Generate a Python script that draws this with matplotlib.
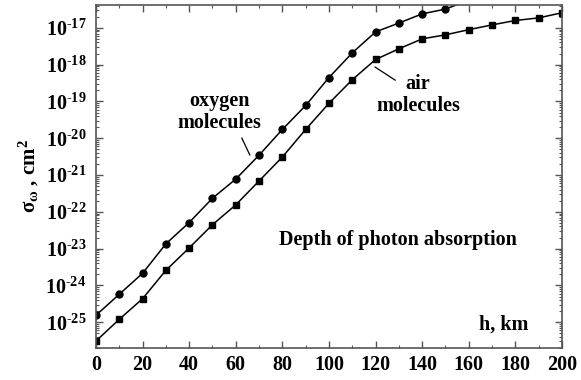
import matplotlib
matplotlib.use("Agg")
import matplotlib.pyplot as plt
import numpy as np
from matplotlib.ticker import FixedLocator, FuncFormatter, MultipleLocator

plt.rcParams['font.family'] = ['Liberation Serif', 'DejaVu Serif']
plt.rcParams['font.weight'] = 'bold'
plt.rcParams['mathtext.fontset'] = 'custom'
plt.rcParams['mathtext.rm'] = 'Liberation Serif:bold'
plt.rcParams['mathtext.bf'] = 'Liberation Serif:bold'
plt.rcParams['mathtext.it'] = 'Liberation Serif:bold'

h_oxygen = [0, 10, 20, 30, 40, 50, 60, 70, 80, 90, 100, 110, 120, 130, 140, 150, 160]
log_sigma_oxygen = [-24.81, -24.24, -23.67, -22.87, -22.29, -21.63, -21.11, -20.46, -19.76,
                    -19.11, -18.35, -17.68, -17.11, -16.87, -16.62, -16.49, -16.25]
h_air = [0, 10, 20, 30, 40, 50, 60, 70, 80, 90, 100, 110, 120, 130, 140, 150, 160, 170, 180, 190, 200]
log_sigma_air = [-25.51, -24.92, -24.36, -23.59, -22.98, -22.35, -21.81, -21.16, -20.51, -19.76,
                 -19.05, -18.41, -17.86, -17.57, -17.30, -17.19, -17.05, -16.92, -16.80, -16.73, -16.59]

fig = plt.figure(figsize=(5.81, 3.80), dpi=100)
ax = fig.add_axes([0.1652, 0.0842, 0.8021, 0.9026])

ax.plot(h_oxygen, 10.0 ** np.array(log_sigma_oxygen), '-o', color='black', lw=1.1, ms=5)
ax.plot(h_air, 10.0 ** np.array(log_sigma_air), '-s', color='black', lw=1.1, ms=4.5)

ax.set_yscale('log')
ax.set_xlim(0, 200)
ax.set_ylim(10 ** -25.70, 10 ** -16.38)

ax.xaxis.set_major_locator(MultipleLocator(20))
ax.xaxis.set_minor_locator(MultipleLocator(10))
ax.yaxis.set_major_locator(FixedLocator([10.0 ** e for e in range(-25, -16)]))
ax.yaxis.set_major_formatter(FuncFormatter(
    lambda v, p: r'$\mathbf{10}^{\text{-%d}}$' % abs(int(round(np.log10(v))))))
minor = []
for e in range(-26, -16):
    for m in range(2, 10):
        minor.append(m * 10.0 ** e)
ax.yaxis.set_minor_locator(FixedLocator(minor))
ax.yaxis.set_minor_formatter(FuncFormatter(lambda v, p: ''))

ax.tick_params(which='both', direction='in', top=True, right=True, color='#555555')
ax.tick_params(which='major', length=5, width=1.0)
ax.tick_params(which='minor', length=2.5, width=0.8)
ax.tick_params(axis='x', labelsize=14.5, pad=5)
ax.tick_params(axis='y', labelsize=14.5, pad=7)
for lab in ax.get_xticklabels():
    lab.set_fontweight('bold')
for s in ax.spines.values():
    s.set_color('#555555')
    s.set_linewidth(1.2)

ax.set_ylabel(r'$\mathbf{\sigma_{\omega}}$ , cm$^{\mathbf{2}}$', fontsize=15, fontweight='bold', labelpad=3)

ax.text(0.264, 0.689, 'oxygen\nmolecules', transform=ax.transAxes, ha='center', va='center',
        fontsize=14.5, fontweight='bold', linespacing=1.15)
ax.text(0.691, 0.738, 'air\nmolecules', transform=ax.transAxes, ha='center', va='center',
        fontsize=14.5, fontweight='bold', linespacing=1.15)
ax.text(0.648, 0.315, 'Depth of photon absorption', transform=ax.transAxes, ha='center', va='center',
        fontsize=14.5, fontweight='bold')
ax.text(0.927, 0.067, 'h, km', transform=ax.transAxes, ha='right', va='center',
        fontsize=14.5, fontweight='bold')

# leader lines (axes coords)
ax.plot([0.313, 0.330], [0.612, 0.563], transform=ax.transAxes, color='black', lw=0.9)
ax.plot([0.599, 0.642], [0.819, 0.781], transform=ax.transAxes, color='black', lw=0.9)

fig.savefig('out.png', dpi=100)
